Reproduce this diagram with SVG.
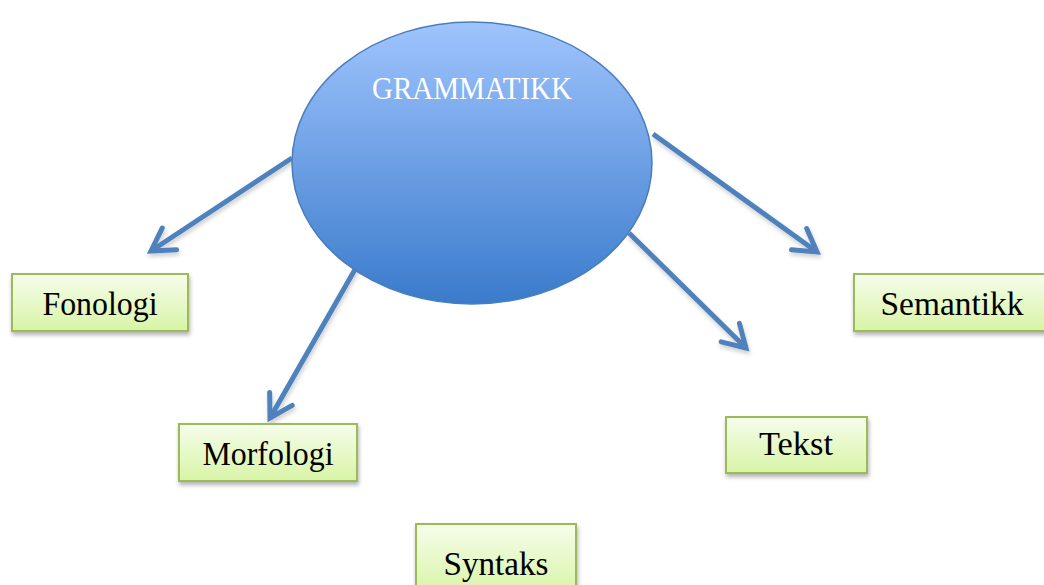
<svg xmlns="http://www.w3.org/2000/svg" width="1044" height="585" viewBox="0 0 1044 585">
<style>
.box{fill:url(#gGreen);stroke:#9bbb59;stroke-width:2;filter:url(#sh)}
.lbl{font-family:"Liberation Serif","DejaVu Serif",serif;font-size:33px;fill:#000;text-anchor:middle}
.conn{fill:none;stroke:#4f81bd;stroke-width:5;marker-end:url(#arr);filter:url(#sh2)}
</style>
<defs>
<linearGradient id="gBlue" x1="0" y1="0" x2="0" y2="1">
<stop offset="0" stop-color="#9fc4fd"/>
<stop offset="1" stop-color="#3a7bcb"/>
</linearGradient>
<linearGradient id="gGreen" x1="0" y1="0" x2="0" y2="1">
<stop offset="0" stop-color="#f6fdec"/>
<stop offset="1" stop-color="#d8f4a6"/>
</linearGradient>
<filter id="sh" x="-10%" y="-10%" width="125%" height="140%">
<feDropShadow dx="1" dy="3" stdDeviation="2" flood-color="#000" flood-opacity="0.3"/>
</filter>
<filter id="sh2" x="-10%" y="-10%" width="125%" height="125%">
<feDropShadow dx="1" dy="3" stdDeviation="2" flood-color="#000" flood-opacity="0.2"/>
</filter>
<marker id="arr" markerUnits="userSpaceOnUse" markerWidth="40" markerHeight="40" refX="0" refY="0" viewBox="-30 -20 40 40" orient="auto">
<path d="M-22,-13 L0,0 L-22,13" fill="none" stroke="#4f81bd" stroke-width="5" stroke-linecap="round" stroke-linejoin="miter"/>
</marker>
</defs>
<g id="connectors">
<line class="conn" x1="292" y1="158" x2="151" y2="251"/>
<line class="conn" x1="361" y1="259" x2="270" y2="418"/>
<line class="conn" x1="484" y1="303" x2="484" y2="465"/>
<line class="conn" x1="629" y1="233" x2="746" y2="348"/>
<line class="conn" x1="653" y1="134" x2="817" y2="252"/>
</g>
<g id="grammatikk">
<ellipse cx="472" cy="163" rx="180" ry="141" fill="url(#gBlue)" stroke="#4a7ebb" stroke-width="1.5"/>
<text x="472" y="99" font-family="Liberation Serif, DejaVu Serif, serif" font-size="31" fill="#fff" text-anchor="middle" textLength="200" lengthAdjust="spacingAndGlyphs">GRAMMATIKK</text>
</g>
<g id="fonologi">
<rect class="box" x="12" y="274" width="176" height="57"/>
<text class="lbl" x="100" y="315" textLength="115" lengthAdjust="spacingAndGlyphs">Fonologi</text>
</g>
<g id="morfologi">
<rect class="box" x="179" y="424" width="178" height="57"/>
<text class="lbl" x="268" y="465" textLength="131" lengthAdjust="spacingAndGlyphs">Morfologi</text>
</g>
<g id="syntaks">
<rect class="box" x="416" y="524" width="160" height="70"/>
<text class="lbl" x="496" y="575" textLength="105" lengthAdjust="spacingAndGlyphs">Syntaks</text>
</g>
<g id="tekst">
<rect class="box" x="726" y="417" width="141" height="56"/>
<text class="lbl" x="796" y="455" textLength="74" lengthAdjust="spacingAndGlyphs">Tekst</text>
</g>
<g id="semantikk">
<rect class="box" x="854" y="274" width="195" height="57"/>
<text class="lbl" x="952" y="315" textLength="143" lengthAdjust="spacingAndGlyphs">Semantikk</text>
</g>
</svg>
